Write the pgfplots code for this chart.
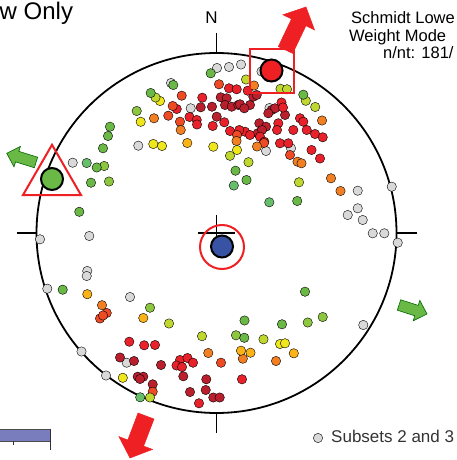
\documentclass[border=0pt]{standalone}
\usepackage{pgfplots}
\pgfplotsset{compat=1.18}
\usepackage{fontspec}
\setmainfont{Liberation Sans}
\definecolor{cgray}{HTML}{D9D9D9}
\definecolor{cdred}{HTML}{BA1F2D}
\definecolor{cred}{HTML}{E8212A}
\definecolor{cored}{HTML}{EE4B25}
\definecolor{corange}{HTML}{F28022}
\definecolor{camber}{HTML}{FBB317}
\definecolor{cyellow}{HTML}{EFE71B}
\definecolor{clime}{HTML}{C0D72F}
\definecolor{cgy}{HTML}{8DC63F}
\definecolor{cgreen}{HTML}{6AB845}
\definecolor{cteal}{HTML}{67BE6B}
\definecolor{cblue}{HTML}{3953A4}
\definecolor{cbar}{HTML}{7A7DBD}
\definecolor{arrred}{HTML}{EE2024}
\definecolor{arrgreen}{HTML}{6AB845}
\begin{document}
\begin{tikzpicture}
\begin{axis}[name=ax, scale only axis, width=456bp, height=460bp,
  xmin=0, xmax=456, ymin=0, ymax=460, y dir=reverse, enlargelimits=false,
  hide axis, clip=false]
% net circle and ticks
\draw[line width=1.8bp, black] (axis cs:216.5,233) circle [radius=180bp];
\draw[line width=1.8bp] (axis cs:216.5,33) -- (axis cs:216.5,53);
\draw[line width=1.8bp] (axis cs:216.5,413) -- (axis cs:216.5,433);
\draw[line width=1.8bp] (axis cs:16.5,233) -- (axis cs:36.5,233);
\draw[line width=1.8bp] (axis cs:396.5,233) -- (axis cs:416.5,233);
\draw[line width=1.4bp] (axis cs:198,233) -- (axis cs:235,233);
\draw[line width=1.4bp] (axis cs:216.5,215) -- (axis cs:216.5,251);
% arrows
\filldraw[fill=arrred, draw=arrred, line width=0.5bp] (axis cs:278.3,46.6) -- (axis cs:291.5,18.9) -- (axis cs:282.9,14.8) -- (axis cs:306,7) -- (axis cs:314.5,29.9) -- (axis cs:305.9,25.8) -- (axis cs:292.7,53.4) -- cycle;
\filldraw[fill=arrred, draw=arrred, line width=0.5bp] (axis cs:138,413) -- (axis cs:127.8,440) -- (axis cs:118.9,436.6) -- (axis cs:130,458) -- (axis cs:152.5,449.4) -- (axis cs:143.6,446.1) -- (axis cs:154,419) -- cycle;
\filldraw[fill=arrgreen, draw=black!60!green, line width=0.6bp] (axis cs:37.65,157.25) -- (axis cs:18.85,151.35) -- (axis cs:20.4,146.4) -- (axis cs:6.7,153.3) -- (axis cs:14.0,166.8) -- (axis cs:15.55,161.85) -- (axis cs:34.35,167.75) -- cycle;
\filldraw[fill=arrgreen, draw=black!60!green, line width=0.6bp] (axis cs:400.7,299.8) -- (axis cs:418.2,305.4) -- (axis cs:419.8,300.4) -- (axis cs:427,314) -- (axis cs:413.2,320.8) -- (axis cs:414.8,315.8) -- (axis cs:397.3,310.2) -- cycle;
% data points
\addplot[only marks, mark=*, mark size=4.7bp, mark options={fill=cgray, draw=none}] coordinates {
(217,68) (229,67) (241,64.5) (261.5,71.5) (268,77) (171,83) (190.7,108.3) (269.5,108)
(138.3,145.7) (72.7,162.7) (266,151) (291,148.3)
(357.7,190.7) (391.7,186.7) (357.7,208.3) (347.7,215) (362.7,220) (372.7,233.3) (384.3,233.3) (397.7,242.7) (363.3,325)
(40,239.3) (89.3,236) (87.3,271) (86.7,276) (47.3,288.7) (130,297) (81.5,351.5) (126.7,362.7) (106,375.5)
(318,438)};
\addplot[only marks, mark=*, mark size=4.7bp, mark options={fill=cdred, draw=none}] coordinates {
(220.7,97.3) (226.7,98.3) (225,105) (231.7,106.7) (238.3,105) (200.7,107.3) (212,106.7) (216.7,116.7)
(240,104.3) (250,105) (253.3,96.7) (256.7,95) (244.3,108.3)
(271.7,110) (275,108.3) (268.3,113.3) (285,115)
(259.3,123.3) (266,126.7) (257.7,133.3) (262,130)
(120,357.5) (134,361) (161,365) (137.7,376.7) (143.3,376.7) (140,379) (152.7,384.3)
(183.3,376.3) (206.3,379.3) (190,392) (205.7,390) (213.3,397.5) (219.7,397.5)};
\addplot[only marks, mark=*, mark size=4.7bp, mark options={fill=cred, draw=none}] coordinates {
(229,88.3) (236.7,89.3) (247.7,90.7) (202.3,97.7) (176.7,109) (189.5,117) (196.7,120) (197,124.5)
(212.7,126) (230,131) (224.3,122.3)
(281.5,102.5) (283,107.5) (300,118.3) (303.3,121.7) (278.3,123.3) (277,130) (293.3,130) (306.7,130)
(315,134) (322.7,137.3) (245,131.7) (250,135) (239.3,130) (260,136.7) (264.3,141.7) (280,143.3) (288.3,143.3)
(311.5,150) (320,158.5)
(129.3,341.7) (144.2,345.3) (155,345) (180,360) (187.5,358) (193,362.7) (176.5,365.5) (182,367)
(199,403.3) (242,379.3)};
\addplot[only marks, mark=*, mark size=4.7bp, mark options={fill=cored, draw=none}] coordinates {
(219,84.3) (181.7,95.7) (172.7,106) (168.3,115.7) (180,121.7) (237,135) (264,143) (290,155)
(221,362.7) (106.7,313) (100,318.5) (103,315.5) (152.7,391.7)};
\addplot[only marks, mark=*, mark size=4.7bp, mark options={fill=corange, draw=none}] coordinates {
(254,85.5) (154,118.3) (180.7,130) (236.5,141) (257,146.5) (297.5,161.7) (301.5,163.3) (322,120.5)
(331,178.3) (340.5,191) (102,305.2) (208.3,353) (242.8,358.7) (276,361)};
\addplot[only marks, mark=*, mark size=4.7bp, mark options={fill=camber, draw=none}] coordinates {
(187.3,143) (87.3,294.2) (143.3,318) (241,350.7) (250.5,352.7) (293.8,353.3)};
\addplot[only marks, mark=*, mark size=4.7bp, mark options={fill=cyellow, draw=none}] coordinates {
(160,101) (140.7,121.8) (153.3,144) (162,146) (213.3,146.7) (237,150) (122.8,377.8) (280,344) (285,343.3)};
\addplot[only marks, mark=*, mark size=4.7bp, mark options={fill=clime, draw=none}] coordinates {
(155.5,97.5) (246,79.5) (280.5,88.8) (287,89.3) (305.8,100.8) (315.2,107) (230,155.8) (248.5,162.2)
(299,182.3) (169,323.5) (202,336.2) (263.5,339.3) (150,397.5)};
\addplot[only marks, mark=*, mark size=4.7bp, mark options={fill=cgy, draw=none}] coordinates {
(136.7,111) (104.2,166) (109,181.5) (150,307.7) (236,335.3) (307.7,322.5) (322.7,317)};
\addplot[only marks, mark=*, mark size=4.7bp, mark options={fill=cgreen, draw=none}] coordinates {
(210.7,73.3) (173.3,85) (150.7,93) (303.3,94.7) (110,126.7) (108,136) (103,148.3) (96.7,167.5)
(91,182.7) (79.3,211.8) (235.5,170.7) (246.5,180) (297.2,201) (62.7,289.7) (305,291.7) (244.5,320.5)
(282,324.3) (244.3,337.8)};
\addplot[only marks, mark=*, mark size=4.7bp, mark options={fill=cteal, draw=none}] coordinates {
(86.7,163) (233.8,185.5) (269.3,202.3) (140.2,397.3)};
% mean / principal axes
\addplot[only marks, mark=*, mark size=11bp, mark options={fill=arrred, draw=black, line width=2bp}] coordinates {(271.5,70.5)};
\addplot[only marks, mark=*, mark size=11bp, mark options={fill=cgreen, draw=black, line width=2bp}] coordinates {(52,179)};
\addplot[only marks, mark=*, mark size=11bp, mark options={fill=cblue, draw=black, line width=2bp}] coordinates {(222,246.5)};
\addplot[only marks, mark=square, mark size=22bp, mark options={draw=arrred, line width=2bp}] coordinates {(272,71)};
\addplot[only marks, mark=triangle, mark size=33.5bp, mark options={draw=arrred, line width=2bp}] coordinates {(52,178.3)};
\addplot[only marks, mark=o, mark size=22bp, mark options={draw=arrred, line width=2bp}] coordinates {(222,247)};
% bar at bottom left
\filldraw[fill=cbar, draw=black!70, line width=0.8bp] (axis cs:-2,429) rectangle (axis cs:50,441);
\draw[black!80, line width=0.9bp] (axis cs:13,441) -- (axis cs:13,445);
\draw[black!80, line width=0.9bp] (axis cs:50,429) -- (axis cs:50,450);
% texts
\node[anchor=base west, inner sep=0, font=\fontsize{24bp}{28bp}\selectfont] at (axis cs:-0.5,20) {w Only};
\node[anchor=base, inner sep=0, font=\fontsize{17bp}{20bp}\selectfont] at (axis cs:211.5,24) {N};
\node[anchor=base west, inner sep=0, font=\fontsize{16.5bp}{20bp}\selectfont] at (axis cs:351,24) {Schmidt Lowe};
\node[anchor=base west, inner sep=0, font=\fontsize{16.5bp}{20bp}\selectfont] at (axis cs:349,41.5) {Weight Mode};
\node[anchor=base west, inner sep=0, font=\fontsize{16.5bp}{20bp}\selectfont] at (axis cs:383,58.5) {n/nt: 181/};
\node[anchor=base west, inner sep=0, text=black!80, font=\fontsize{17bp}{20bp}\selectfont] at (axis cs:331,442.7) {Subsets 2 and 3};
\end{axis}
\pgfresetboundingbox
\path[use as bounding box] (ax.south west) rectangle (ax.north east);
\end{tikzpicture}
\end{document}
